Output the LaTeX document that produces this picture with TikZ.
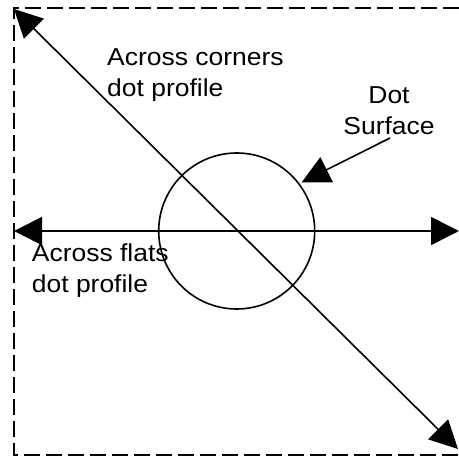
\documentclass[tikz,border=0pt]{standalone}
\usepackage{fontspec}
\newfontfamily\labfont{Liberation Sans}[FakeStretch=1.08]
\usetikzlibrary{arrows.meta}
\begin{document}
\begin{tikzpicture}[x=1pt,y=-1pt,
  frame/.style={line width=2.2pt,dash pattern=on 16pt off 6pt},
  conn/.style={line width=1.6pt,-{Triangle[length=28pt,width=28pt]}},
  dblconn/.style={line width=1.6pt,{Triangle[length=28pt,width=28pt]}-{Triangle[length=28pt,width=28pt]}},
  lab/.style={font=\labfont\fontsize{24.5}{31}\selectfont,inner sep=0pt}]
\useasboundingbox (0,0) rectangle (459,457);
% dashed frame (open on the right)
\coordinate (tr) at (459,8);
\coordinate (tl) at (14,8);
\coordinate (bl) at (14,455);
\coordinate (br) at (459,455);
\draw[frame] (tr) -- (tl) -- (bl) -- (br);
% dot
\node[circle,draw,line width=1.6pt,minimum size=156pt,inner sep=0pt] (dot) at (236.7,231) {};
% across corners
\coordinate (c1) at (14,9);
\coordinate (c2) at (458,449);
\draw[dblconn] (c1) -- (c2);
% across flats
\coordinate (f1) at (14,231);
\coordinate (f2) at (459,231);
\draw[dblconn] (f1) -- (f2);
% dot surface pointer
\coordinate (s1) at (390,138);
\coordinate (s2) at (301.7,182.3);
\draw[conn] (s1) -- (s2);
% labels
\node[lab,anchor=base west,align=left] (corners) at (107,97) {Across corners\\dot profile};
\node[lab,anchor=base west,align=left] (flats) at (31.7,293) {Across flats\\dot profile};
\node[lab,anchor=base,align=center] (surf) at (389,134.7) {Dot\\Surface};
\end{tikzpicture}
\end{document}
